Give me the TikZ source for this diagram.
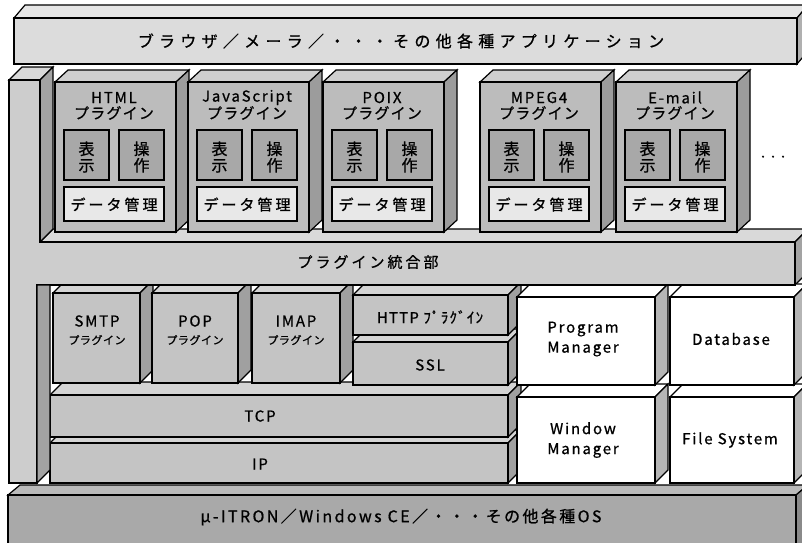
\documentclass[tikz,border=0pt]{standalone}
\usepackage{fontspec}
\setmainfont{Noto Sans CJK JP}[FakeBold=0.8]
\definecolor{appfront}{HTML}{DCDCDC}
\definecolor{apptop}{HTML}{E6E6E6}
\definecolor{appside}{HTML}{B0B0B0}
\definecolor{bpfront}{HTML}{CDCDCD}
\definecolor{bptop}{HTML}{D9D9D9}
\definecolor{bpside}{HTML}{A3A3A3}
\definecolor{plugfront}{HTML}{BCBCBC}
\definecolor{plugtop}{HTML}{CFCFCF}
\definecolor{plugside}{HTML}{9C9C9C}
\definecolor{innerdark}{HTML}{A8A8A8}
\definecolor{innerlight}{HTML}{E8E8E8}
\definecolor{lowfront}{HTML}{C4C4C4}
\definecolor{lowtop}{HTML}{D4D4D4}
\definecolor{lowside}{HTML}{A0A0A0}
\definecolor{whtfront}{HTML}{FFFFFF}
\definecolor{whttop}{HTML}{FFFFFF}
\definecolor{whtside}{HTML}{B5B5B5}
\definecolor{osfront}{HTML}{A9A9A9}
\definecolor{ostop}{HTML}{BABABA}
\definecolor{osside}{HTML}{8A8A8A}
\newcommand\setfs[1]{\fontsize{#1}{#1}\selectfont}
% x1 y1 x2 y2 dx dy colour-prefix
\newcommand\mkbox[7]{%
  \filldraw[boxline,fill=#7top] (#1,#2) -- (#1+#5,#2-#6) -- (#3+#5,#2-#6) -- (#3,#2) -- cycle;
  \filldraw[boxline,fill=#7side] (#3,#2) -- (#3+#5,#2-#6) -- (#3+#5,#4-#6) -- (#3,#4) -- cycle;
  \filldraw[boxline,fill=#7front] (#1,#2) rectangle (#3,#4);}
\tikzset{
  boxline/.style={draw=black,line width=1.2pt,line join=miter},
  lbl/.style={inner sep=0pt,text=black,align=center},
  apptxt/.style={lbl,font=\setfs{16}\addfontfeature{LetterSpace=33}},
  ostxt/.style={lbl,font=\setfs{16}\addfontfeature{LetterSpace=15}},
  bigjp/.style={lbl,font=\setfs{15}\addfontfeature{LetterSpace=20}},
  pname/.style={lbl,font=\setfs{15}\addfontfeature{LetterSpace=12}},
  pkana/.style={lbl,font=\setfs{15}\addfontfeature{LetterSpace=8}},
  kanji/.style={lbl,font=\fontsize{16}{16.5}\selectfont},
  smallkana/.style={lbl,font=\setfs{11}\addfontfeature{LetterSpace=5}},
  latin/.style={lbl,font=\fontsize{15}{20}\selectfont\addfontfeature{LetterSpace=12}}
}
\begin{document}
\begin{tikzpicture}[x=1pt,y=-1pt]
\useasboundingbox (0,0) rectangle (802,542);
\clip (0,0) rectangle (802,542);
% application box
\mkbox{14}{18}{797}{64}{11}{13}{app}
% backplane: band top, band side, upper column
\filldraw[boxline,fill=bptop] (40,242) -- (53,229) -- (808,229) -- (795,242) -- cycle;
\filldraw[boxline,fill=bpside] (795,242) -- (808,229) -- (808,272) -- (795,285) -- cycle;
\filldraw[boxline,fill=bptop] (9,80) -- (22,67) -- (53,67) -- (40,80) -- cycle;
\filldraw[boxline,fill=bpside] (40,80) -- (53,67) -- (53,229) -- (40,242) -- cycle;
% lower boxes
\mkbox{50}{443}{508}{483}{13}{13}{low}
\mkbox{50}{395}{508}{437}{13}{13}{low}
\mkbox{53}{293}{140}{383}{13}{13}{low}
\mkbox{152}{293}{238}{383}{13}{13}{low}
\mkbox{252}{293}{340}{383}{13}{13}{low}
\mkbox{353}{342}{508}{385}{13}{13}{low}
\mkbox{353}{295}{508}{335}{13}{13}{low}
\mkbox{517}{397}{655}{483}{13}{13}{wht}
\mkbox{517}{297}{655}{385}{13}{13}{wht}
\mkbox{670}{397}{794}{483}{13}{13}{wht}
\mkbox{670}{297}{794}{385}{13}{13}{wht}
% backplane front
\filldraw[boxline,fill=bpfront] (9,80) -- (40,80) -- (40,242) -- (795,242) -- (795,285) -- (37,285) -- (37,483) -- (9,483) -- cycle;
\filldraw[boxline,fill=bpside] (37,285) -- (50,285) -- (50,470) -- (37,483) -- cycle;
% upper plugins
\foreach \x/\nm/\lab in {55/html/HTML,188/js/JavaScript,323/poix/POIX,480/mpeg/MPEG4,616/mail/E-mail}{
  \mkbox{\x}{82}{\x+121}{232}{13}{12}{plug}
  \filldraw[boxline,fill=innerdark] (\x+9,130) rectangle (\x+54,180);
  \filldraw[boxline,fill=innerdark] (\x+64,130) rectangle (\x+109,180);
  \filldraw[boxline,fill=innerlight] (\x+9,187) rectangle (\x+109,221);
  \node[pname] (\nm-name) at (\x+59,97.5) {\lab};
  \node[pkana] (\nm-plug) at (\x+59,113) {プラグイン};
  \node[kanji] (\nm-hyoji) at (\x+31.5,157) {表\\示};
  \node[kanji] (\nm-sousa) at (\x+86.5,157) {操\\作};
  \node[bigjp] (\nm-data) at (\x+59,204.5) {データ管理};
}
\node[lbl,font=\setfs{10}] (more) at (773,158) {・・・};
% OS box
\mkbox{8}{495}{796}{560}{12}{10}{os}
% texts
\node[apptxt] (apptext) at (401,41) {ブラウザ／メーラ／・・・その他各種アプリケーション};
\node[bigjp] (integ) at (368,262) {プラグイン統合部};
\node[pname] (smtp) at (97,321) {SMTP};
\node[smallkana] (smtpk) at (97,340) {プラグイン};
\node[pname] (pop) at (195,321) {POP};
\node[smallkana] (popk) at (195,340) {プラグイン};
\node[pname] (imap) at (296,321) {IMAP};
\node[smallkana] (imapk) at (296,340) {プラグイン};
\node[pkana] (http) at (430,317) {HTTP ﾌﾟﾗｸﾞｲﾝ};
\node[pname] (ssl) at (430,365) {SSL};
\node[pname] (tcp) at (260,416) {TCP};
\node[pname] (ip) at (260,464) {IP};
\node[latin] (pm) at (583,339) {Program\\Manager};
\node[latin] (db) at (731,339) {Database};
\node[latin] (wm) at (583,440) {Window\\Manager};
\node[latin] (fs) at (730,440) {File System};
\node[ostxt] (ostext) at (401,517) {μ-ITRON／Windows CE／・・・その他各種OS};
\end{tikzpicture}
\end{document}
